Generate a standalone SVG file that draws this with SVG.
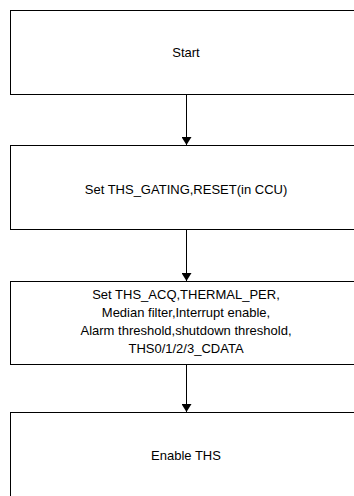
<svg xmlns="http://www.w3.org/2000/svg" width="354" height="496" viewBox="0 0 354 496">
  <style>
    .box { fill: #ffffff; stroke: #000000; stroke-width: 1; }
    .lbl { font-family: "Liberation Sans", Arial, sans-serif; font-size: 13px; fill: #000000; text-anchor: middle; }
    .conn { stroke: #000000; stroke-width: 1; fill: none; marker-end: url(#arrow); }
  </style>
  <defs>
    <marker id="arrow" markerWidth="8" markerHeight="10" refX="8" refY="5" orient="auto" markerUnits="userSpaceOnUse">
      <path d="M0,0 L8,5 L0,10 Z" fill="#000000"/>
    </marker>
  </defs>
  <rect width="354" height="496" fill="#ffffff"/>
  <g id="connectors">
    <line class="conn" x1="186.5" y1="94.5" x2="186.5" y2="145"/>
    <line class="conn" x1="186.5" y1="229.5" x2="186.5" y2="281"/>
    <line class="conn" x1="186.5" y1="364.5" x2="186.5" y2="412"/>
  </g>
  <g id="start">
    <rect class="box" x="10.5" y="10.5" width="360" height="84"/>
    <text class="lbl" x="186" y="57">Start</text>
  </g>
  <g id="set-gating">
    <rect class="box" x="10.5" y="145.5" width="360" height="84"/>
    <text class="lbl" x="186" y="194">Set THS_GATING,RESET(in CCU)</text>
  </g>
  <g id="set-params">
    <rect class="box" x="10.5" y="281.5" width="360" height="83"/>
    <text class="lbl" x="186" y="298.5">Set THS_ACQ,THERMAL_PER,</text>
    <text class="lbl" x="186" y="316.5">Median filter,Interrupt enable,</text>
    <text class="lbl" x="186" y="334.5">Alarm threshold,shutdown threshold,</text>
    <text class="lbl" x="186" y="352.5">THS0/1/2/3_CDATA</text>
  </g>
  <g id="enable">
    <rect class="box" x="10.5" y="412.5" width="360" height="100"/>
    <text class="lbl" x="186" y="460">Enable THS</text>
  </g>
</svg>
